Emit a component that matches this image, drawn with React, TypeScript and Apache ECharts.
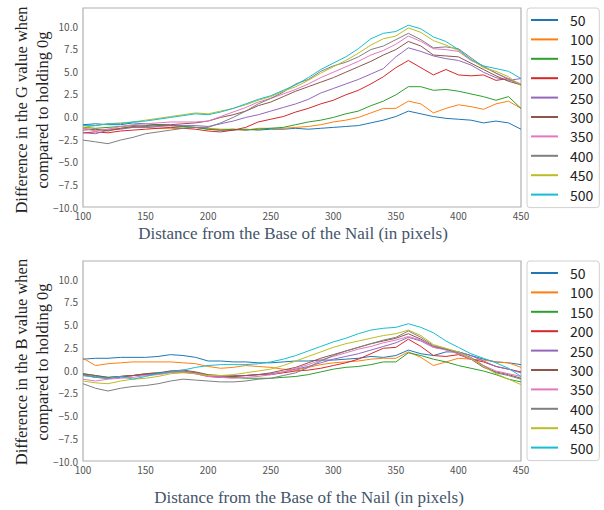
import React, { useEffect, useRef } from "react";
import * as echarts from "echarts";

const xValues = [100, 110, 120, 130, 140, 150, 160, 170, 180, 190, 200, 210, 220, 230, 240, 250, 260, 270, 280, 290, 300, 310, 320, 330, 340, 350, 360, 370, 380, 390, 400, 410, 420, 430, 440, 450];
const seriesNames = ["50", "100", "150", "200", "250", "300", "350", "400", "450", "500"];
const colors = ["#1f77b4", "#ff7f0e", "#2ca02c", "#d62728", "#9467bd", "#8c564b", "#e377c2", "#7f7f7f", "#bcbd22", "#17becf"];
const xTicks = [100, 150, 200, 250, 300, 350, 400, 450];
const yTicks = [-10, -7.5, -5, -2.5, 0, 2.5, 5, 7.5, 10];

// G channel
const g50 = [-0.9, -0.8, -0.9, -0.9, -0.7, -0.8, -0.9, -1.0, -1.1, -1.2, -1.4, -1.5, -1.5, -1.4, -1.5, -1.4, -1.4, -1.3, -1.4, -1.3, -1.2, -1.1, -1.0, -0.7, -0.4, 0.0, 0.6, 0.3, 0.0, -0.2, -0.3, -0.4, -0.7, -0.5, -0.7, -1.4];
const g100 = [-1.3, -1.5, -1.4, -1.3, -1.2, -1.2, -1.3, -1.3, -1.3, -1.2, -1.3, -1.4, -1.4, -1.5, -1.3, -1.3, -1.3, -1.2, -1.1, -0.9, -0.6, -0.4, -0.1, 0.4, 0.9, 0.9, 1.7, 1.4, 0.4, 0.9, 1.3, 1.1, 0.8, 1.4, 1.7, 0.9];
const g150 = [-1.2, -1.3, -1.2, -1.1, -1.0, -1.1, -1.0, -1.0, -1.1, -1.2, -1.4, -1.5, -1.4, -1.5, -1.4, -1.3, -1.2, -0.9, -0.6, -0.4, -0.1, 0.3, 0.6, 1.2, 1.7, 2.4, 3.3, 3.3, 2.9, 3.0, 2.8, 2.5, 2.2, 1.8, 2.2, 0.9];
const g200 = [-1.8, -1.7, -1.8, -1.6, -1.5, -1.4, -1.3, -1.2, -1.3, -1.4, -1.6, -1.7, -1.5, -1.2, -0.6, -0.3, 0.0, 0.5, 0.9, 1.4, 1.8, 2.4, 2.9, 3.6, 4.4, 5.4, 6.2, 5.4, 4.6, 5.2, 4.6, 4.5, 4.6, 4.0, 4.2, 3.5];
const g250 = [-1.8, -1.9, -1.5, -1.4, -1.2, -1.2, -1.1, -1.0, -1.0, -1.0, -1.1, -0.8, -0.5, -0.1, 0.2, 0.6, 1.0, 1.4, 1.9, 2.6, 3.1, 3.6, 4.1, 4.7, 5.3, 6.6, 7.6, 7.2, 6.7, 6.4, 6.2, 5.7, 4.9, 4.3, 4.0, 4.2];
const g300 = [-1.5, -1.4, -1.6, -1.3, -1.1, -1.0, -0.9, -0.9, -0.8, -0.7, -0.5, -0.1, 0.2, 0.6, 1.2, 1.6, 2.2, 2.8, 3.3, 3.8, 4.3, 4.9, 5.5, 6.1, 6.8, 7.4, 8.3, 7.8, 6.8, 6.7, 6.6, 5.9, 5.2, 4.5, 3.9, 3.5];
const g350 = [-1.3, -1.6, -1.4, -1.1, -0.9, -0.8, -0.7, -0.6, -0.6, -0.6, -0.5, 0.0, 0.5, 1.0, 1.6, 2.0, 2.5, 3.0, 3.6, 4.3, 4.9, 5.5, 6.1, 6.8, 7.3, 8.0, 8.9, 8.3, 7.5, 7.4, 7.2, 6.2, 5.6, 4.8, 4.2, 3.6];
const g400 = [-2.6, -2.8, -3.0, -2.6, -2.3, -1.9, -1.7, -1.5, -1.3, -1.2, -1.2, -0.7, -0.1, 0.6, 1.4, 2.0, 2.7, 3.6, 4.1, 5.0, 5.6, 6.0, 6.6, 7.4, 7.8, 8.5, 9.2, 8.5, 7.6, 7.7, 7.5, 6.5, 5.5, 4.8, 4.1, 3.5];
const g450 = [-1.2, -1.0, -0.8, -0.7, -0.6, -0.4, -0.2, 0.0, 0.2, 0.4, 0.3, 0.6, 0.9, 1.3, 1.8, 2.2, 2.8, 3.3, 4.0, 4.8, 5.5, 6.2, 7.0, 7.9, 8.6, 8.9, 9.8, 9.3, 8.4, 7.9, 7.3, 6.3, 5.4, 5.0, 4.4, 3.4];
const g500 = [-1.0, -1.0, -0.8, -0.8, -0.6, -0.5, -0.3, -0.1, 0.1, 0.3, 0.2, 0.5, 0.9, 1.4, 1.9, 2.3, 2.9, 3.5, 4.3, 5.2, 5.9, 6.6, 7.5, 8.6, 9.2, 9.4, 10.1, 9.7, 8.8, 8.3, 7.4, 6.3, 5.6, 5.3, 5.0, 4.2];

// B channel
const b50 = [1.2, 1.3, 1.3, 1.4, 1.4, 1.4, 1.5, 1.7, 1.6, 1.4, 1.0, 1.0, 0.9, 0.9, 0.8, 0.8, 0.9, 1.0, 1.0, 1.1, 1.1, 1.2, 1.3, 1.5, 1.4, 1.6, 2.2, 1.8, 1.6, 2.0, 2.0, 1.6, 1.2, 0.9, 0.8, 0.6];
const b100 = [1.3, 0.5, 0.7, 0.8, 0.9, 0.9, 0.9, 0.9, 0.8, 0.7, 0.4, 0.2, 0.3, 0.5, 0.4, 0.3, 0.1, 0.0, 0.3, 0.6, 0.8, 0.9, 1.0, 1.2, 1.3, 1.3, 2.0, 1.4, 0.5, 0.9, 1.3, 1.2, 1.1, 0.9, 0.8, 0.3];
const b150 = [-0.4, -0.6, -0.8, -0.7, -0.6, -0.4, -0.3, -0.2, -0.2, -0.3, -0.6, -0.8, -0.8, -0.9, -0.9, -0.9, -0.8, -0.7, -0.5, -0.2, 0.1, 0.3, 0.4, 0.6, 0.9, 0.9, 1.9, 1.6, 1.2, 0.9, 0.5, 0.2, -0.1, -0.5, -1.0, -1.3];
const b200 = [-0.5, -0.8, -0.9, -0.7, -0.6, -0.5, -0.4, -0.2, -0.2, -0.4, -0.7, -0.8, -0.7, -0.6, -0.5, -0.5, -0.3, -0.1, 0.0, 0.2, 0.5, 0.8, 1.2, 1.8, 2.4, 2.5, 3.4, 2.6, 1.6, 1.5, 1.7, 1.2, 0.9, 0.4, 0.1, -0.2];
const b250 = [-0.6, -0.7, -0.9, -0.8, -0.6, -0.5, -0.4, -0.1, -0.1, -0.3, -0.6, -0.7, -0.6, -0.6, -0.5, -0.4, -0.2, 0.1, 0.4, 0.8, 1.2, 1.5, 1.8, 2.2, 2.6, 3.0, 3.6, 3.2, 2.5, 2.3, 2.0, 1.6, 1.0, 0.4, 0.1, -0.3];
const b300 = [-0.4, -0.6, -0.8, -0.7, -0.6, -0.4, -0.3, -0.1, 0.0, -0.2, -0.5, -0.6, -0.7, -0.6, -0.5, -0.3, 0.0, 0.3, 0.8, 1.3, 1.7, 2.1, 2.5, 2.9, 3.2, 3.5, 4.0, 3.4, 2.6, 2.3, 1.8, 1.2, 0.3, -0.2, -0.5, -0.9];
const b350 = [-1.0, -1.2, -1.0, -0.9, -0.8, -0.6, -0.5, -0.3, -0.2, -0.4, -0.7, -0.8, -0.9, -0.8, -0.7, -0.5, -0.2, 0.2, 0.6, 1.1, 1.5, 1.9, 2.3, 2.6, 3.0, 3.3, 3.7, 3.3, 2.5, 2.2, 1.8, 1.2, 0.5, -0.1, -0.4, -0.7];
const b400 = [-1.5, -2.0, -2.3, -2.0, -1.8, -1.7, -1.5, -1.2, -1.0, -1.1, -1.2, -1.3, -1.3, -1.2, -1.0, -0.9, -0.6, -0.3, 0.3, 1.0, 1.6, 2.1, 2.5, 2.9, 3.3, 3.6, 4.3, 3.6, 2.7, 2.3, 1.9, 1.4, 0.5, -0.3, -0.6, -1.0];
const b450 = [-1.2, -1.4, -1.5, -1.2, -1.0, -0.9, -0.7, -0.4, -0.3, -0.4, -0.6, -0.6, -0.5, -0.3, -0.1, 0.1, 0.5, 1.0, 1.5, 2.0, 2.5, 2.9, 3.2, 3.5, 3.8, 4.0, 4.4, 3.8, 2.8, 2.4, 2.0, 1.3, 0.4, -0.4, -1.0, -1.6];
const b500 = [-0.6, -0.8, -0.9, -0.7, -1.0, -0.7, -0.4, -0.2, 0.0, 0.3, 0.5, 0.6, 0.6, 0.6, 0.7, 0.9, 1.2, 1.6, 2.1, 2.6, 3.1, 3.5, 4.0, 4.4, 4.6, 4.7, 5.1, 4.7, 4.1, 3.2, 2.5, 1.8, 1.3, 0.8, 0.2, -0.7];

const gSeries = [g50, g100, g150, g200, g250, g300, g350, g400, g450, g500];
const bSeries = [b50, b100, b150, b200, b250, b300, b350, b400, b450, b500];

const xTitle = "Distance from the Base of the Nail (in pixels)";
const gTitle = "Difference in the G value when\ncompared to holding 0g";
const bTitle = "Difference in the B value when\ncompared to holding 0g";

const fmtY = (v: number) => (v < 0 ? "\u2212" : "") + Math.abs(v).toFixed(1);

export default function App() {
  const ref = useRef<HTMLDivElement>(null);
  useEffect(() => {
    if (!ref.current) return;
    const chart = echarts.init(ref.current, undefined, { renderer: "svg" });
    const grids = [
      { left: 83, top: 8, width: 438, height: 199 },
      { left: 83, top: 261, width: 438, height: 200 },
    ];
    const tickFont = { fontFamily: "Noto Sans CJK JP", fontSize: 10, color: "#555" };
    const xAxes = grids.map((_, i) => ({
      type: "value",
      gridIndex: i,
      min: xTicks[0],
      max: xTicks[xTicks.length - 1],
      interval: 50,
      axisLine: { show: false },
      axisTick: { show: false },
      splitLine: { show: false },
      axisLabel: { ...tickFont, margin: 3 },
    }));
    const yAxes = grids.map((_, i) => ({
      type: "value",
      gridIndex: i,
      min: yTicks[0],
      max: 12,
      interval: 2.5,
      axisLine: { show: false },
      axisTick: { show: false },
      splitLine: { show: false },
      axisLabel: { ...tickFont, margin: 5, showMaxLabel: false, formatter: (v: number) => (v > 10 ? "" : fmtY(v)) },
    }));
    const series: any[] = [];
    [gSeries, bSeries].forEach((set, gi) => {
      set.forEach((arr, si) => {
        series.push({
          type: "line",
          name: seriesNames[si],
          xAxisIndex: gi,
          yAxisIndex: gi,
          showSymbol: false,
          symbol: "none",
          data: xValues.map((x, k) => [x, arr[k]]),
          lineStyle: { width: 1, color: colors[si] },
          itemStyle: { color: colors[si] },
          z: 2 + si,
        });
      });
    });
    const legendBase = {
      orient: "vertical",
      left: 527,
      data: seriesNames,
      icon: "rect",
      itemWidth: 27,
      itemHeight: 2,
      itemGap: 5.4,
      padding: [5, 6, 6, 4],
      borderColor: "#d0d0d0",
      borderWidth: 1,
      borderRadius: 3,
      backgroundColor: "#fff",
      selectedMode: false,
      textStyle: { fontFamily: "Noto Sans CJK JP", fontSize: 14, lineHeight: 14, color: "#222", padding: [0, 0, 0, 7] },
    };
    const titleStyle = { fontFamily: "Liberation Serif", fontSize: 16.5, fill: "#222", lineHeight: 21, align: "center", verticalAlign: "middle" };
    const xTitleStyle = { fontFamily: "Liberation Serif", fontSize: 17, fill: "#44546A", align: "center", verticalAlign: "middle" };
    chart.setOption({
      animation: false,
      backgroundColor: "#fff",
      grid: grids.map((g) => ({ ...g, show: true, borderColor: "#b0b0b0", borderWidth: 1.2, backgroundColor: "transparent" })),
      xAxis: xAxes,
      yAxis: yAxes,
      legend: [
        { ...legendBase, top: 8 },
        { ...legendBase, top: 261 },
      ],
      series,
      graphic: [
        { type: "text", x: 32, y: 110, rotation: Math.PI / 2, style: { text: gTitle, ...titleStyle } },
        { type: "text", x: 32, y: 362, rotation: Math.PI / 2, style: { text: bTitle, ...titleStyle } },
        { type: "text", x: 293, y: 233, style: { text: xTitle, ...xTitleStyle } },
        { type: "text", x: 309, y: 497, style: { text: xTitle, ...xTitleStyle } },
      ],
    });
    return () => chart.dispose();
  }, []);
  return <div ref={ref} style={{ position: "absolute", left: 0, top: 0, width: 604, height: 510 }} />;
}
